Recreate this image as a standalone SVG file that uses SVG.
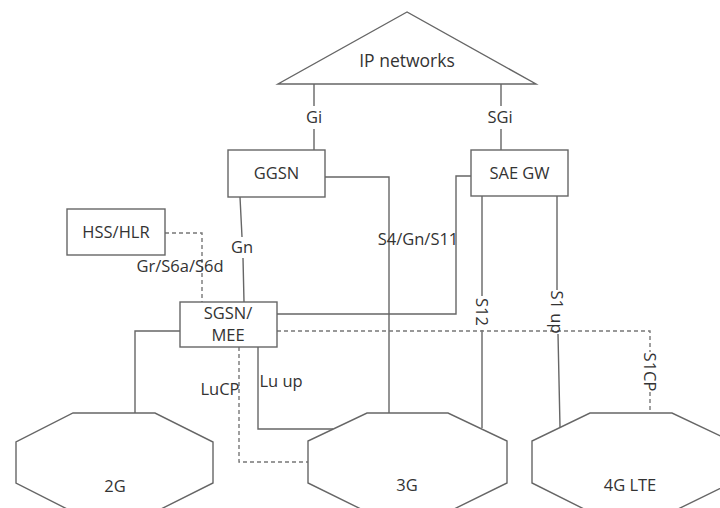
<svg xmlns="http://www.w3.org/2000/svg" width="720" height="508" viewBox="0 0 720 508">
<style>
.shape{fill:#fff;stroke:#666;stroke-width:1.4}
.ln{fill:none;stroke:#666;stroke-width:1.4}
.ds{fill:none;stroke:#777;stroke-width:1.4;stroke-dasharray:4 3}
text{font-family:"Open Sans","Noto Sans","Liberation Sans",sans-serif;font-size:16.5px;fill:#333;text-anchor:middle}
</style>
<rect width="720" height="508" fill="#fff"/>
<g id="connectors">
<path class="ln" d="M314 84V106M314 129V150"/>
<path class="ln" d="M501 84V106M501 129V150"/>
<path class="ln" d="M325 177H389V413"/>
<path class="ln" d="M471 176H456V314H277"/>
<path class="ln" d="M240 197L242 237M243 258L244 302"/>
<path class="ds" d="M165 233H202V302"/>
<path class="ln" d="M482 196V296M482 330V428"/>
<path class="ln" d="M557 196V290M558 334L560 427"/>
<path class="ds" d="M277 331H650V352M650 392V413"/>
<path class="ln" d="M180 331H135V413"/>
<path class="ln" d="M258 347V429H333"/>
<path class="ds" d="M239 347V462H308"/>
<text x="314" y="123">Gi</text>
<text x="500" y="123">SGi</text>
<text x="242" y="253">Gn</text>
<text x="180" y="272">Gr/S6a/S6d</text>
<text x="418" y="245">S4/Gn/S11</text>
<text x="482" y="312" transform="rotate(90 482 312)" dy="6">S12</text>
<text x="557" y="312" transform="rotate(90 557 312)" dy="6">S1 up</text>
<text x="650" y="372" transform="rotate(90 650 372)" dy="6">S1CP</text>
<text x="220" y="395">LuCP</text>
<text x="281" y="387">Lu up</text>
</g>
<g id="ip-networks">
<polygon class="shape" points="407,12 278,84 536,84"/>
<text x="407" y="67" style="font-size:17.5px">IP networks</text>
</g>
<g id="ggsn">
<rect class="shape" x="228" y="150" width="97" height="47"/>
<text x="276.5" y="179">GGSN</text>
</g>
<g id="sae-gw">
<rect class="shape" x="471" y="150" width="97" height="46"/>
<text x="519.5" y="179">SAE GW</text>
</g>
<g id="hss-hlr">
<rect class="shape" x="67" y="209" width="98" height="46"/>
<text x="116" y="238">HSS/HLR</text>
</g>
<g id="sgsn-mee">
<rect class="shape" x="180" y="302" width="97" height="45"/>
<text x="228" y="319">SGSN/</text>
<text x="228" y="341">MEE</text>
</g>
<g id="net-2g">
<polygon class="shape" points="73,413 155,413 213,442 213,483 155,512 73,512 16,483 16,442"/>
<text x="115" y="492">2G</text>
</g>
<g id="net-3g">
<polygon class="shape" points="367,413 448,413 507,441 507,483 448,512 367,512 308,483 308,441"/>
<text x="407" y="491">3G</text>
</g>
<g id="net-4g">
<polygon class="shape" points="590,413 672,413 731,441 731,483 672,512 590,512 532,483 532,441"/>
<text x="630" y="491">4G LTE</text>
</g>
</svg>
